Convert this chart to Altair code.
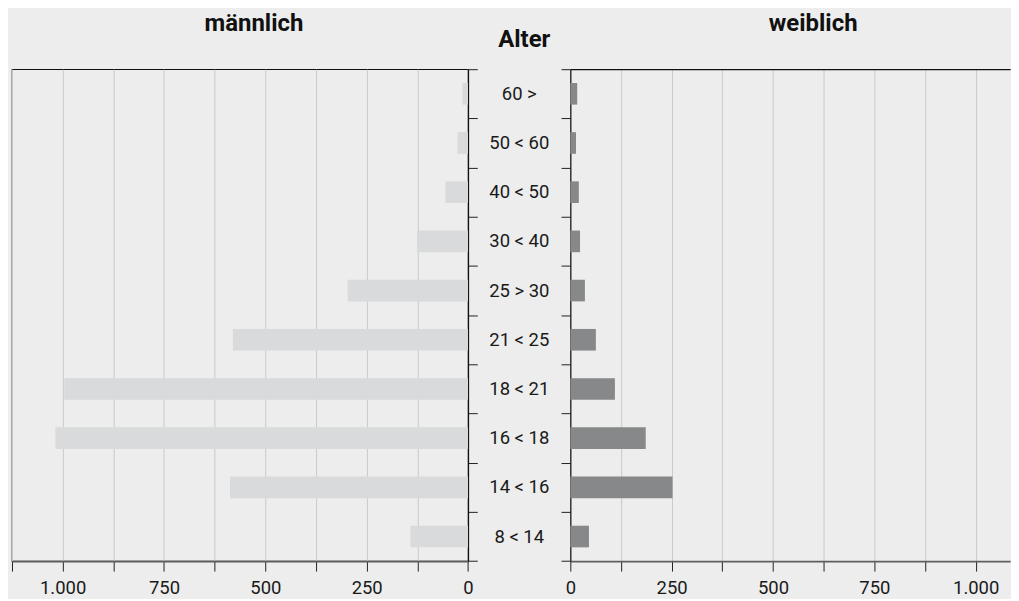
import altair as alt
import pandas as pd

# ---- data ----
age_groups = ["60 >", "50 < 60", "40 < 50", "30 < 40", "25 > 30",
              "21 < 25", "18 < 21", "16 < 18", "14 < 16", "8 < 14"]
maennlich = [14, 26, 56, 126, 297, 580, 996, 1018, 587, 142]
weiblich = [17, 14, 21, 24, 36, 63, 110, 186, 252, 46]
x_ticks_left = [0, 125, 250, 375, 500, 625, 750, 875, 1000, 1125]
x_ticks_right = [0, 125, 250, 375, 500, 625, 750, 875, 1000]

df = pd.DataFrame({"Alter": age_groups, "m": maennlich, "w": weiblich})

FONT = "Roboto"
PX_PER_UNIT = 457.4 / 1125
LEFT_MAX = 1125
RIGHT_MAX = 1085
LEFT_W = LEFT_MAX * PX_PER_UNIT
RIGHT_W = RIGHT_MAX * PX_PER_UNIT
MID_W = 101.6
H = 493.4
label_expr = "datum.value % 250 == 0 ? replace(format(datum.value, ','), ',', '.') : ''"

def x_axis(vals):
    return alt.Axis(values=vals, labelExpr=label_expr, title=None, grid=True,
                    gridColor="#C9CACA", gridWidth=1, domainColor="#5E5E5E",
                    domainWidth=1.6, tickColor="#222222", tickSize=10,
                    labelPadding=7, labelFlush=False, labelOverlap=False)

def y_axis(orient):
    return alt.Axis(orient=orient, labels=False, title=None, tickBand="extent",
                    tickSize=9.3, tickColor="#222222", domainColor="#111111",
                    domainWidth=1.2, grid=False)

y_scale = alt.Scale(paddingInner=0, paddingOuter=0)

def panel_title(text, dx, offset):
    return alt.TitleParams(text, frame="group", anchor="middle", dx=dx,
                           baseline="alphabetic", offset=offset, fontSize=24,
                           font=FONT, fontWeight="bold", color="#111111")

left = alt.Chart(df).mark_bar(size=21.7, color="#D9DADB").encode(
    x=alt.X("m:Q", scale=alt.Scale(domain=[0, LEFT_MAX], reverse=True, nice=False),
            axis=x_axis(x_ticks_left)),
    y=alt.Y("Alter:N", sort=age_groups, scale=y_scale, axis=y_axis("right")),
).properties(width=LEFT_W, height=H, title=panel_title("männlich", 14, 14))

mid = alt.Chart(df).mark_text(fontSize=18.5, font=FONT, color="#1a1a1a",
                              align="center", baseline="middle").encode(
    y=alt.Y("Alter:N", sort=age_groups, scale=y_scale, axis=None),
    x=alt.value(MID_W / 2),
    text="Alter:N",
).properties(width=MID_W, height=H, title=panel_title("Alter", 5, -1.5),
             view=alt.ViewBackground(strokeOpacity=0))

right_x_scale = alt.Scale(domain=[0, RIGHT_MAX], nice=False)
right_base = alt.Chart(df).encode(
    y=alt.Y("Alter:N", sort=age_groups, scale=y_scale, axis=y_axis("left")),
)
right_bars = right_base.mark_bar(size=21.7, color="#878889").encode(
    x=alt.X("w:Q", scale=right_x_scale, axis=x_axis(x_ticks_right)),
)
right_top = right_base.mark_bar(size=21.7, opacity=0).encode(
    x=alt.X("w:Q", scale=right_x_scale,
            axis=alt.Axis(orient="top", labels=False, ticks=False, grid=False,
                          title=None, domainColor="#111111", domainWidth=1.2)),
)
right = alt.layer(right_bars, right_top).resolve_axis(x="independent").properties(
    width=RIGHT_W, height=H, title=panel_title("weiblich", 23, 14),
    view=alt.ViewBackground(strokeOpacity=0))

chart = alt.hconcat(left, mid, right, spacing=0, bounds="flush").properties(
    padding={"left": 2, "top": 1.5, "right": 0, "bottom": 0},
    background="#ECEDEC",
).configure_view(stroke="#111111", strokeWidth=1.2).configure_axis(
    labelFont=FONT, labelFontSize=18.5, labelColor="#1a1a1a"
)

chart.save("out.html", embed_options={"renderer": "svg", "actions": False})
